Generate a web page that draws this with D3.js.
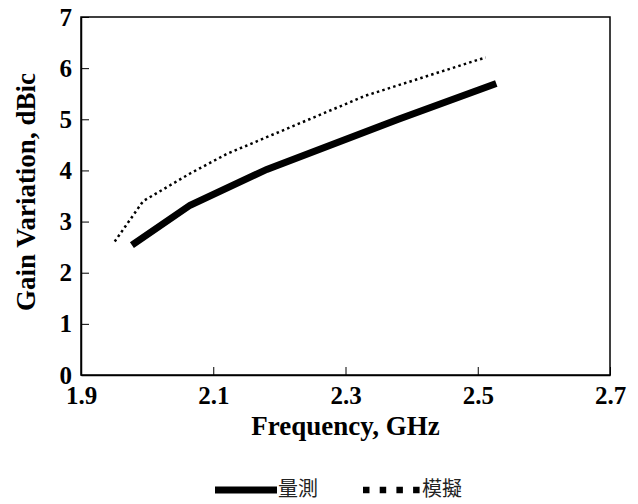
<!DOCTYPE html>
<html>
<head>
<meta charset="utf-8">
<script src="https://cdn.jsdelivr.net/npm/d3@7"></script>
<style>
  html, body { margin: 0; padding: 0; background: #fff; }
  svg { display: block; }
</style>
</head>
<body>
<div id="chart"></div>
<script>
// 데이터: 주파수(GHz)와 이득 변화(dBic)
const freqMeasured = [1.977, 2.065, 2.181, 2.38, 2.528];
const gainMeasured = [2.54, 3.32, 4.02, 5.0, 5.70];
const freqSimulated = [1.951, 1.994, 2.065, 2.12, 2.33, 2.512];
const gainSimulated = [2.61, 3.40, 3.94, 4.32, 5.46, 6.21];
const xTicks = [1.9, 2.1, 2.3, 2.5, 2.7];
const yTicks = [0, 1, 2, 3, 4, 5, 6, 7];
const seriesNames = ['量測', '模擬'];

const width = 638, height = 504;
const margin = { top: 17, right: 28, bottom: 129, left: 81 };
const innerW = width - margin.left - margin.right;
const innerH = height - margin.top - margin.bottom;

const svg = d3.select('#chart').append('svg')
  .attr('width', width)
  .attr('height', height);

const g = svg.append('g').attr('transform', `translate(${margin.left},${margin.top})`);

const x = d3.scaleLinear().domain([1.9, 2.7]).range([0, innerW]);
const y = d3.scaleLinear().domain([0, 7]).range([innerH, 0]);

const serif = '"Liberation Serif", "Times New Roman", serif';

// 플롯 영역 테두리
g.append('rect')
  .attr('width', innerW)
  .attr('height', innerH)
  .attr('fill', 'none')
  .attr('stroke', '#000')
  .attr('stroke-width', 1.5);

// x축 (안쪽 눈금)
const xAxis = g.append('g')
  .attr('transform', `translate(0,${innerH})`)
  .call(d3.axisBottom(x).tickValues(xTicks).tickFormat(d3.format('.1f'))
    .tickSizeInner(-8).tickSizeOuter(0).tickPadding(11));
xAxis.select('.domain').attr('stroke-width', 1.5);
xAxis.selectAll('.tick line').attr('stroke-width', 1);
xAxis.selectAll('.tick text')
  .attr('font-family', serif)
  .attr('font-weight', 'bold')
  .attr('font-size', 25)
  .attr('fill', '#000');

// y축 (안쪽 눈금)
const yAxis = g.append('g')
  .call(d3.axisLeft(y).tickValues(yTicks).tickFormat(d3.format('d'))
    .tickSizeInner(-8).tickSizeOuter(0).tickPadding(9));
yAxis.select('.domain').attr('stroke-width', 1.5);
yAxis.selectAll('.tick line').attr('stroke-width', 1);
yAxis.selectAll('.tick text')
  .attr('font-family', serif)
  .attr('font-weight', 'bold')
  .attr('font-size', 25)
  .attr('fill', '#000');

// 축 제목
svg.append('text')
  .attr('x', margin.left + x(2.3))
  .attr('y', 435)
  .attr('text-anchor', 'middle')
  .attr('font-family', serif)
  .attr('font-weight', 'bold')
  .attr('font-size', 27)
  .text('Frequency, GHz');

svg.append('text')
  .attr('transform', `translate(35,${192}) rotate(-90)`)
  .attr('text-anchor', 'middle')
  .attr('font-family', serif)
  .attr('font-weight', 'bold')
  .attr('font-size', 27)
  .text('Gain Variation, dBic');

// 선 그리기
const line = d3.line().x(d => x(d[0])).y(d => y(d[1]));
const measured = d3.zip(freqMeasured, gainMeasured);
const simulated = d3.zip(freqSimulated, gainSimulated);

g.append('path')
  .datum(simulated)
  .attr('d', line)
  .attr('fill', 'none')
  .attr('stroke', '#000')
  .attr('stroke-width', 2.5)
  .attr('stroke-dasharray', '2.5,3.2');

g.append('path')
  .datum(measured)
  .attr('d', line)
  .attr('fill', 'none')
  .attr('stroke', '#000')
  .attr('stroke-width', 7)
  .attr('stroke-linejoin', 'miter');

// 범례
const legend = svg.append('g');
legend.append('line')
  .attr('x1', 215).attr('x2', 277)
  .attr('y1', 490).attr('y2', 490)
  .attr('stroke', '#000').attr('stroke-width', 7);
legend.append('text')
  .attr('x', 278).attr('y', 496)
  .attr('font-family', '"Noto Sans CJK TC", sans-serif')
  .attr('font-size', 20)
  .attr('fill', '#222')
  .text(seriesNames[0]);

legend.append('line')
  .attr('x1', 363).attr('x2', 422)
  .attr('y1', 490).attr('y2', 490)
  .attr('stroke', '#000').attr('stroke-width', 6.5)
  .attr('stroke-dasharray', '6.5,10.2');
legend.append('text')
  .attr('x', 422).attr('y', 496)
  .attr('font-family', '"Noto Sans CJK TC", sans-serif')
  .attr('font-size', 20)
  .attr('fill', '#222')
  .text(seriesNames[1]);
</script>
</body>
</html>
